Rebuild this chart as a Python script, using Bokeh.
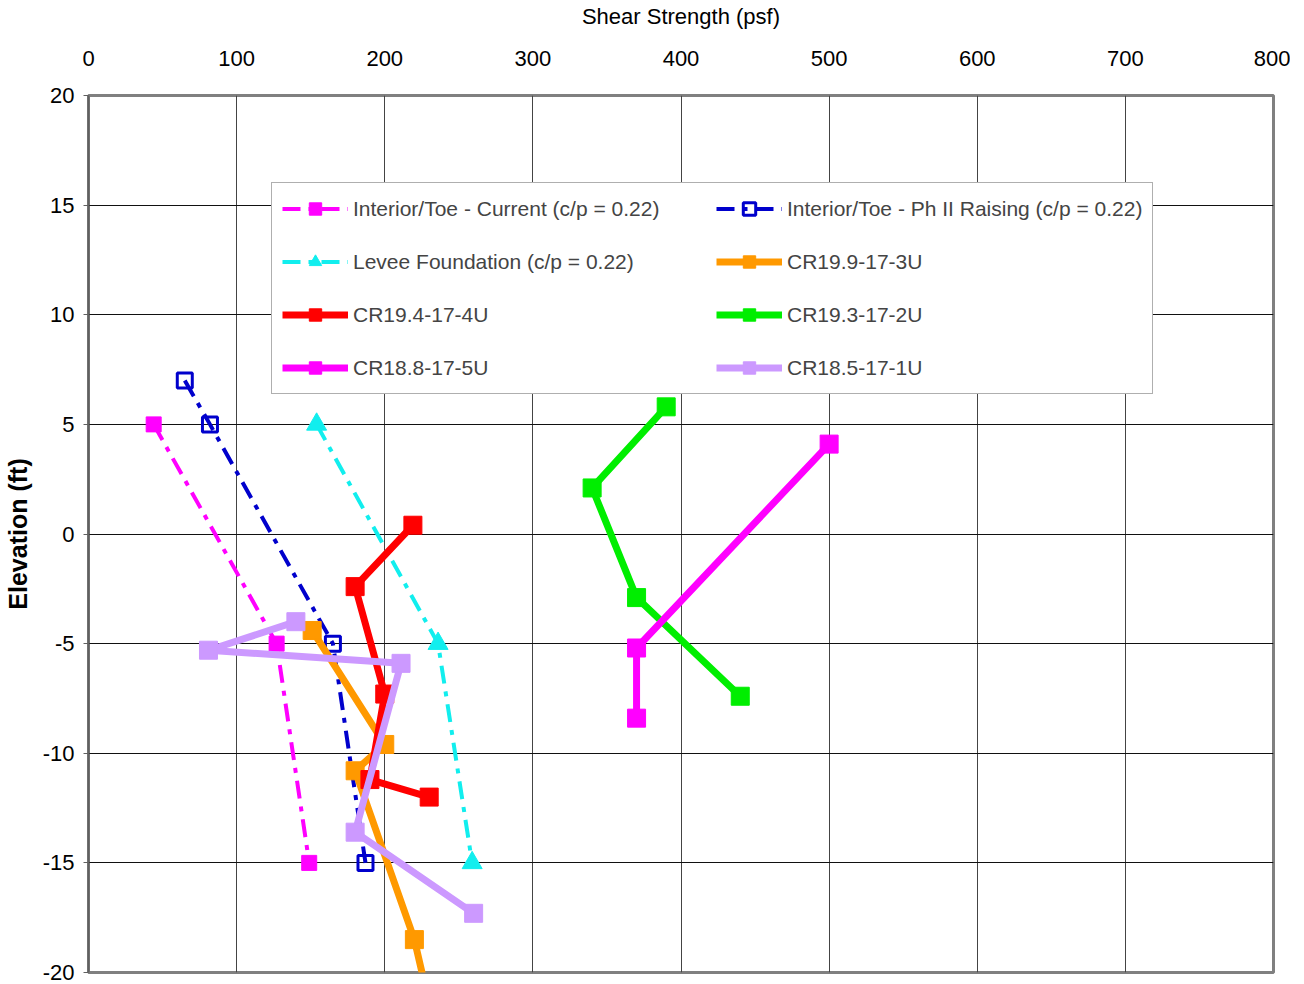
from bokeh.plotting import figure
from bokeh.models import SingleIntervalTicker, Legend, LegendItem, PrintfTickFormatter
from bokeh.embed import file_html
from bokeh.resources import INLINE

# ---- data ----
current_x = [44, 127, 149]
current_y = [5, -5, -15]
ph2_x = [65, 82, 165, 187]
ph2_y = [7, 5, -5, -15]
levee_x = [154, 236, 259]
levee_y = [5, -5, -15]
cr199_x = [151, 200, 180, 220, 232]
cr199_y = [-4.4, -9.6, -10.8, -18.5, -22.0]
cr194_x = [219, 180, 200, 190, 230]
cr194_y = [0.4, -2.4, -7.3, -11.2, -12.0]
cr193_x = [390, 340, 370, 440]
cr193_y = [5.8, 2.1, -2.9, -7.4]
cr188_x = [500, 370, 370]
cr188_y = [4.1, -5.2, -8.4]
cr185_x = [140, 81, 211, 180, 260]
cr185_y = [-4.0, -5.3, -5.9, -13.6, -17.3]

labels = [
    "Interior/Toe - Current (c/p = 0.22)",
    "Interior/Toe - Ph II Raising (c/p = 0.22)",
    "Levee Foundation (c/p = 0.22)",
    "CR19.9-17-3U",
    "CR19.4-17-4U",
    "CR19.3-17-2U",
    "CR18.8-17-5U",
    "CR18.5-17-1U",
]

FONT = "Liberation Sans"
DASH = "18 8 5 8"

p = figure(x_range=(0, 800), y_range=(-20, 20),
           x_axis_location="above", output_backend="svg", toolbar_location=None,
           min_border_left=86, min_border_top=91, min_border_right=17, min_border_bottom=12)
p.frame_width = 1185
p.frame_height = 877

p.background_fill_color = "white"
p.outline_line_color = "#808080"
p.outline_line_width = 3

p.xaxis.ticker = SingleIntervalTicker(interval=100)
p.yaxis.ticker = SingleIntervalTicker(interval=5)
p.xgrid.ticker = SingleIntervalTicker(interval=100)
p.ygrid.ticker = SingleIntervalTicker(interval=5)
p.xgrid.grid_line_color = "#444444"
p.ygrid.grid_line_color = "#111111"
p.xgrid.grid_line_width = 1
p.ygrid.grid_line_width = 1

for ax in (p.xaxis[0], p.yaxis[0]):
    ax.formatter = PrintfTickFormatter(format="%d")
    ax.major_label_text_font = FONT
    ax.major_label_text_font_size = "22px"
    ax.major_label_text_color = "black"
    ax.minor_tick_line_color = None
    ax.axis_line_color = "#606060"
    ax.axis_line_width = 2
    ax.axis_label_text_color = "black"

p.xaxis.major_tick_line_color = None
p.xaxis.major_tick_out = 0
p.xaxis.major_tick_in = 0
p.xaxis.major_label_standoff = 26
p.xaxis.axis_line_color = None
p.xaxis.axis_label = "Shear Strength (psf)"
p.xaxis.axis_label_text_font = FONT
p.xaxis.axis_label_text_font_size = "22px"
p.xaxis.axis_label_text_font_style = "normal"
p.xaxis.axis_label_standoff = 19

p.yaxis.major_tick_out = 5
p.yaxis.major_tick_in = 0
p.yaxis.major_tick_line_color = "#606060"
p.yaxis.major_label_standoff = 9
p.yaxis.axis_label = "Elevation (ft)"
p.yaxis.axis_label_text_font = FONT
p.yaxis.axis_label_text_font_size = "25px"
p.yaxis.axis_label_text_font_style = "bold"
p.yaxis.axis_label_standoff = 8

items = []

def dashed(xs, ys, color, marker, size, label, fill=True):
    r1 = p.line(xs, ys, line_color=color, line_width=4, line_dash=DASH)
    if fill:
        r2 = p.scatter(xs, ys, marker=marker, size=size, fill_color=color, line_color=color)
    else:
        r2 = p.scatter(xs, ys, marker=marker, size=size, fill_color="white", fill_alpha=0,
                       line_color=color, line_width=3)
    return LegendItem(label=label, renderers=[r1, r2])

def solid(xs, ys, color, label):
    r1 = p.line(xs, ys, line_color=color, line_width=7)
    r2 = p.scatter(xs, ys, marker="square", size=18, fill_color=color, line_color=color)
    return LegendItem(label=label, renderers=[r1, r2])

items.append(dashed(current_x, current_y, "#FF00FF", "square", 15, labels[0]))
items.append(dashed(ph2_x, ph2_y, "#0000CC", "square", 15, labels[1], fill=False))
items.append(dashed(levee_x, levee_y, "#11EEEE", "triangle", 20, labels[2]))
items.append(solid(cr199_x, cr199_y, "#FF9900", labels[3]))
items.append(solid(cr194_x, cr194_y, "#FF0000", labels[4]))
items.append(solid(cr193_x, cr193_y, "#00EE00", labels[5]))
items.append(solid(cr188_x, cr188_y, "#FF00FF", labels[6]))
items.append(solid(cr185_x, cr185_y, "#CC99FF", labels[7]))

legend = Legend(items=items, location=(183, 578), orientation="horizontal", ncols=2,
                label_text_font=FONT, label_text_font_size="21px",
                glyph_width=66, glyph_height=31, label_standoff=5, spacing=22,
                label_width=341, padding=10,
                border_line_color="#606060", border_line_width=1,
                background_fill_color="white", background_fill_alpha=1.0,
                margin=0)
p.add_layout(legend, "center")

open("out.html", "w").write(file_html(p, INLINE))
